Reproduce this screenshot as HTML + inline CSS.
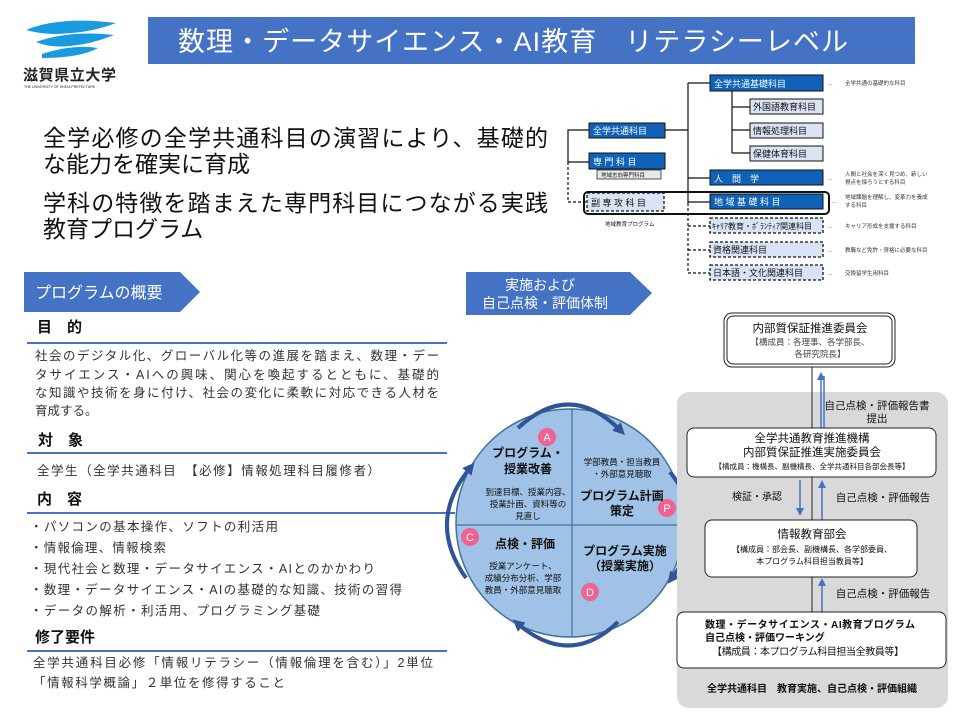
<!DOCTYPE html>
<html><head><meta charset="utf-8"><style>
html,body{margin:0;padding:0;background:#fff}
svg{display:block}
text{font-family:"Liberation Sans","Noto Sans CJK JP",sans-serif}
.b{font-weight:bold}
</style></head><body>
<svg width="960" height="720" viewBox="0 0 960 720" xmlns="http://www.w3.org/2000/svg">
<defs>
<marker id="au" markerUnits="userSpaceOnUse" markerWidth="8" markerHeight="8" refX="4" refY="4" orient="auto"><path d="M0,0 L8,4 L0,8 z" fill="#4472C4"/></marker>
<marker id="ab" markerUnits="userSpaceOnUse" markerWidth="12" markerHeight="12" refX="5" refY="6" orient="auto"><path d="M0,0 L12,6 L0,12 z" fill="#2F5597"/></marker>
</defs>
<!-- logo -->
<path d="M26,30 Q60,16 116,23 Q92,32 70,33 Q48,36 26,30z" fill="#1a9ae0"/>
<path d="M36,42 Q70,30 114,35 Q92,44 70,46 Q50,48 36,42z" fill="#1a9ae0"/>
<path d="M42,54 Q72,44 98,48 Q80,58 42,58z" fill="#1a9ae0"/>
<text x="23" y="80" font-size="15" class="b" fill="#222" textLength="93">滋賀県立大学</text>
<text x="24" y="88" font-size="3.5" fill="#222">THE UNIVERSITY OF SHIGA PREFECTURE</text>
<!-- title -->
<rect x="148" y="17" width="767" height="47" fill="#4472C4"/>
<text x="178" y="51" font-size="27" fill="#fff" textLength="670">数理・データサイエンス・AI教育　リテラシーレベル</text>
<!-- big text -->
<g font-size="23" fill="#111">
<text x="43" y="146" textLength="505">全学必修の全学共通科目の演習により、基礎的</text>
<text x="43" y="172">な能力を確実に育成</text>
<text x="43" y="211" textLength="505">学科の特徴を踏まえた専門科目につながる実践</text>
<text x="43" y="237">教育プログラム</text>
</g>
<!-- banners -->
<path d="M24,272 H180 L200,292 L180,312 H24z" fill="#4472C4"/>
<text x="35" y="298" font-size="16" fill="#fff">プログラムの概要</text>
<path d="M466,272 H630 L652,293 L630,315 H466z" fill="#4472C4"/>
<text x="540" y="290" font-size="14" fill="#fff" text-anchor="middle">実施および</text>
<text x="545" y="308" font-size="14" fill="#fff" text-anchor="middle">自己点検・評価体制</text>
<!-- left sections -->
<g stroke="#4472C4" stroke-width="2"><line x1="27" y1="343" x2="447" y2="343"/><line x1="27" y1="453" x2="447" y2="453"/><line x1="27" y1="513" x2="455" y2="513"/><line x1="27" y1="651" x2="447" y2="651"/></g>
<g font-size="15" class="b" fill="#111"><text x="37" y="332">目　的</text><text x="38" y="445">対　象</text><text x="37" y="504">内　容</text><text x="35" y="642">修了要件</text></g>
<g font-size="12.5" fill="#333">
<text x="35" y="360" textLength="404">社会のデジタル化、グローバル化等の進展を踏まえ、数理・デー</text>
<text x="35" y="379" textLength="404">タサイエンス・AIへの興味、関心を喚起するとともに、基礎的</text>
<text x="35" y="397" textLength="404">な知識や技術を身に付け、社会の変化に柔軟に対応できる人材を</text>
<text x="35" y="415">育成する。</text>
<text x="37" y="475" textLength="343">全学生（全学共通科目　【必修】情報処理科目履修者）</text>
<text x="30" y="531" textLength="248">・パソコンの基本操作、ソフトの利活用</text>
<text x="30" y="552" textLength="136">・情報倫理、情報検索</text>
<text x="30" y="573" textLength="345">・現代社会と数理・データサイエンス・AIとのかかわり</text>
<text x="30" y="594" textLength="372">・数理・データサイエンス・AIの基礎的な知識、技術の習得</text>
<text x="30" y="615" textLength="290">・データの解析・利活用、プログラミング基礎</text>
<text x="33" y="667" textLength="400">全学共通科目必修「情報リテラシー（情報倫理を含む）」2単位</text>
<text x="33" y="687" textLength="252">「情報科学概論」２単位を修得すること</text>
</g>
<!-- PDCA circle -->
<circle cx="570" cy="523" r="114" fill="#9fc2e6" stroke="#41719C" stroke-width="1.5"/>
<line x1="572" y1="409" x2="572" y2="637" stroke="#41719C" stroke-width="1.2"/>
<line x1="456" y1="525" x2="684" y2="525" stroke="#41719C" stroke-width="1.2"/>
<g fill="none" stroke="#2F5597" stroke-width="4" marker-end="url(#ab)">
<path d="M518,428 Q570,380 620,430"/>
<path d="M670,472 Q712,525 672,578"/>
<path d="M618,622 Q570,668 518,624"/>
<path d="M466,578 Q426,522 470,468"/>
</g>
<g fill="#f06292"><circle cx="547" cy="437" r="9"/><circle cx="667" cy="508" r="9"/><circle cx="470" cy="537" r="9"/><circle cx="590" cy="592" r="9"/></g>
<g fill="#fff" font-size="11" text-anchor="middle"><text x="547" y="441">A</text><text x="667" y="512">P</text><text x="470" y="541">C</text><text x="590" y="596">D</text></g>
<g text-anchor="middle" fill="#111">
<text x="528" y="457" font-size="12" class="b">プログラム・</text>
<text x="528" y="473" font-size="12" class="b">授業改善</text>
<text x="528" y="495" font-size="8.5">到達目標、授業内容、</text>
<text x="528" y="507" font-size="8.5">授業計画、資料等の</text>
<text x="528" y="519" font-size="8.5">見直し</text>
<text x="622" y="465" font-size="8.5">学部教員・担当教員</text>
<text x="622" y="477" font-size="8.5">・外部意見聴取</text>
<text x="622" y="500" font-size="12" class="b">プログラム計画</text>
<text x="622" y="515" font-size="12" class="b">策定</text>
<text x="525" y="548" font-size="12" class="b">点検・評価</text>
<text x="523" y="569" font-size="8.5">授業アンケート、</text>
<text x="523" y="581" font-size="8.5">成績分布分析、学部</text>
<text x="523" y="593" font-size="8.5">教員・外部意見聴取</text>
<text x="625" y="555" font-size="12" class="b">プログラム実施</text>
<text x="625" y="570" font-size="12" class="b">（授業実施）</text>
</g>
<!-- org chart -->
<rect x="677" y="392" width="271" height="316" rx="12" fill="#d9d9d9"/>
<line x1="812" y1="367" x2="812" y2="612" stroke="#222" stroke-width="1"/>
<g stroke="#4472C4" stroke-width="1.5">
<line x1="821" y1="428" x2="821" y2="376" marker-end="url(#au)"/><line x1="824" y1="428" x2="824" y2="376"/>
<line x1="800" y1="480" x2="800" y2="512" marker-end="url(#au)"/>
<line x1="822" y1="520" x2="822" y2="484" marker-end="url(#au)"/>
<line x1="822" y1="612" x2="822" y2="582" marker-end="url(#au)"/>
</g>
<rect x="724" y="313" width="171" height="54" rx="8" fill="#fff" stroke="#222" stroke-width="1"/>
<rect x="727" y="316" width="165" height="48" rx="6" fill="none" stroke="#222" stroke-width="1"/>
<rect x="687" y="428" width="249" height="49" rx="7" fill="#fff" stroke="#222"/>
<rect x="705" y="520" width="212" height="57" rx="7" fill="#fff" stroke="#222"/>
<rect x="677" y="612" width="269" height="56" rx="7" fill="#fff" stroke="#222"/>
<g text-anchor="middle" fill="#111">
<text x="810" y="332" font-size="11.5">内部質保証推進委員会</text>
<text x="810" y="345" font-size="8.5" fill="#444">【構成員：各理事、各学部長、</text>
<text x="820" y="357" font-size="8.5" fill="#444">各研究院長】</text>
<text x="877" y="409" font-size="10.5">自己点検・評価報告書</text>
<text x="877" y="422" font-size="10.5">提出</text>
<text x="812" y="442" font-size="11.5">全学共通教育推進機構</text>
<text x="812" y="456" font-size="11.5">内部質保証推進実施委員会</text>
<text x="812" y="469" font-size="7.5">【構成員：機構長、副機構長、全学共通科目各部会長等】</text>
<text x="757" y="500" font-size="10">検証・承認</text>
<text x="883" y="501" font-size="10.5">自己点検・評価報告</text>
<text x="812" y="538" font-size="11.5">情報教育部会</text>
<text x="812" y="552" font-size="8">【構成員：部会長、副機構長、各学部委員、</text>
<text x="812" y="564" font-size="8">本プログラム科目担当教員等】</text>
<text x="883" y="597" font-size="10.5">自己点検・評価報告</text>
<text x="812" y="692" font-size="10" class="b">全学共通科目　教育実施、自己点検・評価組織</text>
</g>
<g font-size="10" fill="#111">
<text x="705" y="628" class="b" textLength="210">数理・データサイエンス・AI教育プログラム</text>
<text x="705" y="641" class="b">自己点検・評価ワーキング</text>
<text x="712" y="655" textLength="192">【構成員：本プログラム科目担当全教員等】</text>
</g>
<!-- tree chart -->
<g stroke="#111" stroke-width="1.2" fill="none">
<path d="M589,130 H568 V162 H589"/>
<path d="M568,162 V202 H587" stroke-dasharray="3,2"/>
<path d="M665,130 H688"/>
<path d="M688,83 V203"/>
<path d="M688,203 V273" stroke-dasharray="3,2"/>
<path d="M688,83 H710 M688,178 H710 M688,202 H710"/>
<path d="M688,226 H710 M688,250 H710 M688,273 H710" stroke-dasharray="3,2"/>
<path d="M732,91 V153 M732,107 H750 M732,130 H750 M732,153 H750"/>
</g>
<g stroke="#111" stroke-width="1">
<rect x="710" y="75" width="113" height="16" fill="#0f62b8"/>
<rect x="589" y="123" width="76" height="15" fill="#0f62b8"/>
<rect x="589" y="153" width="76" height="16" fill="#0f62b8"/>
<rect x="710" y="170" width="113" height="15" fill="#0f62b8"/>
<rect x="710" y="194" width="113" height="15" fill="#0f62b8"/>
<rect x="750" y="99" width="73" height="15" fill="#dae3f3"/>
<rect x="750" y="123" width="73" height="15" fill="#dae3f3"/>
<rect x="750" y="146" width="73" height="15" fill="#dae3f3"/>
<rect x="597" y="170" width="64" height="9" fill="#e8e8e8" stroke-width="0.7"/>
<g stroke-dasharray="3,2" stroke-width="1.3" fill="#dae3f3">
<rect x="587" y="193" width="77" height="18"/>
<rect x="710" y="218" width="113" height="15"/>
<rect x="710" y="242" width="113" height="15"/>
<rect x="710" y="265" width="113" height="15"/>
</g>
</g>
<rect x="584" y="192" width="245" height="22" rx="4" fill="none" stroke="#111" stroke-width="2"/>
<g font-size="9" fill="#fff">
<text x="714" y="87">全学共通基礎科目</text>
<text x="593" y="134">全学共通科目</text>
<text x="593" y="165">専 門 科 目</text>
<text x="714" y="182">人　間　学</text>
<text x="714" y="205">地 域 基 礎 科 目</text>
</g>
<g font-size="9" fill="#111">
<text x="753" y="110">外国語教育科目</text>
<text x="753" y="134">情報処理科目</text>
<text x="753" y="157">保健体育科目</text>
<text x="591" y="206">副 専 攻 科 目</text>
<text x="712" y="229" font-size="8">ｷｬﾘｱ教育・ﾎﾞﾗﾝﾃｨｱ関連科目</text>
<text x="713" y="253">資格関連科目</text>
<text x="713" y="276">日本語・文化関連科目</text>
<text x="601" y="177" font-size="5.5">地域志向専門科目</text>
<text x="605" y="226" font-size="5.5">地域教育プログラム</text>
</g>
<g font-size="5.5" fill="#333">
<text x="827" y="85">…</text><text x="845" y="85">全学共通の基礎的な科目</text>
<text x="827" y="180">…</text><text x="845" y="176">人間と社会を深く見つめ、新しい</text><text x="845" y="184">視点を探ろうとする科目</text>
<text x="831" y="203">…</text><text x="845" y="199">地域課題を理解し、変革力を養成</text><text x="845" y="207">する科目</text>
<text x="827" y="228">…</text><text x="845" y="228">キャリア形成を支援する科目</text>
<text x="827" y="252">…</text><text x="845" y="252">教職など免許・資格に必要な科目</text>
<text x="827" y="275">…</text><text x="845" y="275">交換留学生用科目</text>
</g>
</svg>
</body></html>
